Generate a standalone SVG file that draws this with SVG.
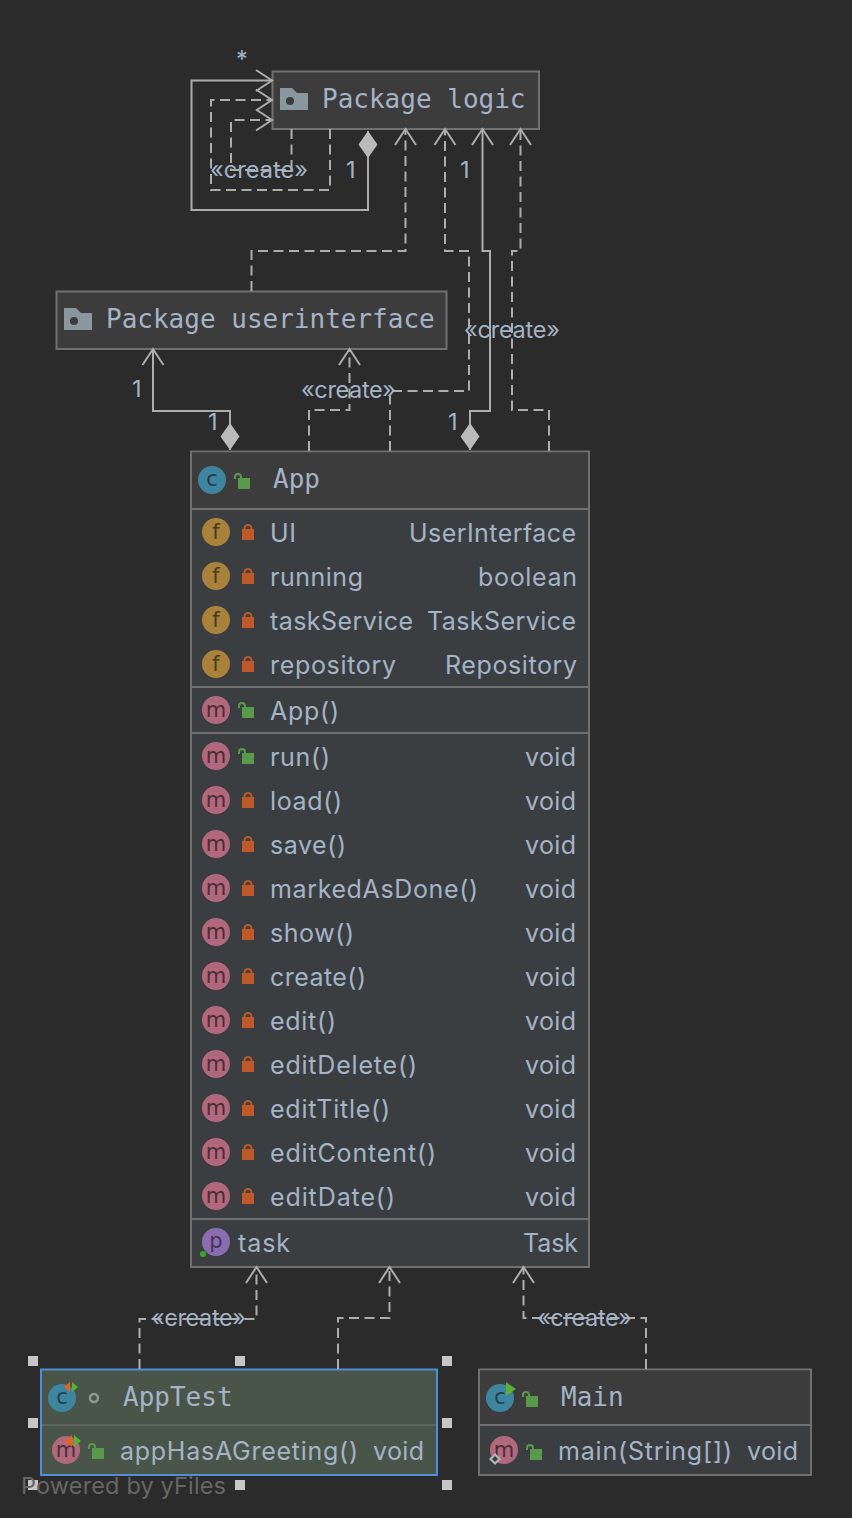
<svg xmlns="http://www.w3.org/2000/svg" xmlns:xlink="http://www.w3.org/1999/xlink" width="852" height="1518" viewBox="0 0 852 1518">
<style>
.bg{fill:#2b2b2b}
.box{stroke:#707070;stroke-width:2}
.hd{fill:#3c3c3c}
.bd{fill:#3a3e41}
.sep{stroke:#707070;stroke-width:2;fill:none}
.title{font-family:"DejaVu Sans Mono","Liberation Mono",monospace;font-size:26px;fill:#a4b4c6}
.m{font-family:Inter,"Noto Sans",sans-serif;font-size:25px;fill:#a4b4c6}
.lab{font-family:Inter,"Noto Sans",sans-serif;font-size:23.500px;fill:#a4b4c6}
.ic{font-family:"DejaVu Sans",sans-serif;font-size:21px;text-anchor:middle}
.sol,.dash{fill:none;stroke:#adadad;stroke-width:2}
.dash{stroke-dasharray:10 5.500}
.arr{fill:none;stroke:#adadad;stroke-width:2}
.dia{fill:#bababa}
.h{fill:#c6c6c6}
</style>
<defs>
<marker id="open" markerUnits="userSpaceOnUse" orient="auto" overflow="visible" markerWidth="20" markerHeight="24" refX="0" refY="0"><path class="arr" d="M-16,-10.500L0,0L-16,10.500"/></marker>
<marker id="diamond" markerUnits="userSpaceOnUse" orient="auto" overflow="visible" markerWidth="30" markerHeight="24" refX="0" refY="0"><path class="dia" d="M0,0L13.500,-9.500L27,0L13.500,9.500Z"/></marker>
<g id="lock"><rect x="-6" y="-2" width="12" height="11" fill="#c0592a"/><path d="M-3.500,-2V-2.500A3.500,3.500 0 0 1 3.500,-2.500V-2" fill="none" stroke="#c0592a" stroke-width="2"/></g>
<g id="open-lock"><rect x="-4" y="-2" width="12" height="11" fill="#59994a"/><path d="M-7,-1V-3A3,3 0 0 1 -1,-3V-2" fill="none" stroke="#59994a" stroke-width="2"/></g>
<g id="folder"><path d="M0,0H12L17,5H28V22H0Z" fill="#8a979f"/><circle cx="10" cy="13" r="4" fill="#3c3c3c"/></g>
</defs>
<rect class="bg" width="852" height="1518"/>

<g id="node-package-logic">
<rect class="box hd" x="272.500" y="71.500" width="266.500" height="57.500"/>
<use xlink:href="#folder" href="#folder" x="280" y="88"/>
<text class="title" x="322" y="108">Package logic</text>
</g>

<g id="node-package-userinterface">
<rect class="box hd" x="56.500" y="291.500" width="390" height="57.500"/>
<use xlink:href="#folder" href="#folder" x="64" y="308"/>
<text class="title" x="106" y="328">Package userinterface</text>
</g>

<g id="node-app">
<rect class="box bd" x="191" y="451.500" width="398" height="815.500"/>
<rect class="hd" x="192" y="452.500" width="396" height="56"/>
<path class="sep" d="M191,509H589M191,687H589M191,733H589M191,1219H589"/>
<circle cx="212" cy="480" r="14" fill="#3e86a0"/><text class="ic" x="212" y="486" fill="#1f3f4d">c</text>
<use xlink:href="#open-lock" href="#open-lock" x="242" y="480"/>
<text class="title" x="273" y="488">App</text>

<g><circle cx="216" cy="532" r="14" fill="#a8823b"/><text class="ic" x="216" y="539" fill="#4a3a1d">f</text><use xlink:href="#lock" href="#lock" x="248" y="531"/><text class="m" x="270" y="542" textLength="26">UI</text><text class="m" x="409" y="542" textLength="167">UserInterface</text></g>
<g><circle cx="216" cy="576" r="14" fill="#a8823b"/><text class="ic" x="216" y="583" fill="#4a3a1d">f</text><use xlink:href="#lock" href="#lock" x="248" y="575"/><text class="m" x="270" y="586" textLength="93">running</text><text class="m" x="478" y="586" textLength="99">boolean</text></g>
<g><circle cx="216" cy="620" r="14" fill="#a8823b"/><text class="ic" x="216" y="627" fill="#4a3a1d">f</text><use xlink:href="#lock" href="#lock" x="248" y="619"/><text class="m" x="270" y="630" textLength="143">taskService</text><text class="m" x="427" y="630" textLength="149">TaskService</text></g>
<g><circle cx="216" cy="664" r="14" fill="#a8823b"/><text class="ic" x="216" y="671" fill="#4a3a1d">f</text><use xlink:href="#lock" href="#lock" x="248" y="663"/><text class="m" x="270" y="674" textLength="126">repository</text><text class="m" x="445" y="674" textLength="132">Repository</text></g>

<g><circle cx="216" cy="710" r="14" fill="#b0697c"/><text class="ic" x="216" y="717" fill="#4e2c36">m</text><use xlink:href="#open-lock" href="#open-lock" x="246" y="709"/><text class="m" x="270" y="720" textLength="69">App()</text></g>
<g><circle cx="216" cy="756" r="14" fill="#b0697c"/><text class="ic" x="216" y="763" fill="#4e2c36">m</text><use xlink:href="#open-lock" href="#open-lock" x="246" y="755"/><text class="m" x="270" y="766" textLength="60">run()</text><text class="m" x="525" y="766" textLength="51">void</text></g>
<g><circle cx="216" cy="800" r="14" fill="#b0697c"/><text class="ic" x="216" y="807" fill="#4e2c36">m</text><use xlink:href="#lock" href="#lock" x="248" y="799"/><text class="m" x="270" y="810" textLength="72">load()</text><text class="m" x="525" y="810" textLength="51">void</text></g>
<g><circle cx="216" cy="844" r="14" fill="#b0697c"/><text class="ic" x="216" y="851" fill="#4e2c36">m</text><use xlink:href="#lock" href="#lock" x="248" y="843"/><text class="m" x="270" y="854" textLength="76">save()</text><text class="m" x="525" y="854" textLength="51">void</text></g>
<g><circle cx="216" cy="888" r="14" fill="#b0697c"/><text class="ic" x="216" y="895" fill="#4e2c36">m</text><use xlink:href="#lock" href="#lock" x="248" y="887"/><text class="m" x="270" y="898" textLength="208">markedAsDone()</text><text class="m" x="525" y="898" textLength="51">void</text></g>
<g><circle cx="216" cy="932" r="14" fill="#b0697c"/><text class="ic" x="216" y="939" fill="#4e2c36">m</text><use xlink:href="#lock" href="#lock" x="248" y="931"/><text class="m" x="270" y="942" textLength="84">show()</text><text class="m" x="525" y="942" textLength="51">void</text></g>
<g><circle cx="216" cy="976" r="14" fill="#b0697c"/><text class="ic" x="216" y="983" fill="#4e2c36">m</text><use xlink:href="#lock" href="#lock" x="248" y="975"/><text class="m" x="270" y="986" textLength="96">create()</text><text class="m" x="525" y="986" textLength="51">void</text></g>
<g><circle cx="216" cy="1020" r="14" fill="#b0697c"/><text class="ic" x="216" y="1027" fill="#4e2c36">m</text><use xlink:href="#lock" href="#lock" x="248" y="1019"/><text class="m" x="270" y="1030" textLength="66">edit()</text><text class="m" x="525" y="1030" textLength="51">void</text></g>
<g><circle cx="216" cy="1064" r="14" fill="#b0697c"/><text class="ic" x="216" y="1071" fill="#4e2c36">m</text><use xlink:href="#lock" href="#lock" x="248" y="1063"/><text class="m" x="270" y="1074" textLength="147">editDelete()</text><text class="m" x="525" y="1074" textLength="51">void</text></g>
<g><circle cx="216" cy="1108" r="14" fill="#b0697c"/><text class="ic" x="216" y="1115" fill="#4e2c36">m</text><use xlink:href="#lock" href="#lock" x="248" y="1107"/><text class="m" x="270" y="1118" textLength="120">editTitle()</text><text class="m" x="525" y="1118" textLength="51">void</text></g>
<g><circle cx="216" cy="1152" r="14" fill="#b0697c"/><text class="ic" x="216" y="1159" fill="#4e2c36">m</text><use xlink:href="#lock" href="#lock" x="248" y="1151"/><text class="m" x="270" y="1162" textLength="166">editContent()</text><text class="m" x="525" y="1162" textLength="51">void</text></g>
<g><circle cx="216" cy="1196" r="14" fill="#b0697c"/><text class="ic" x="216" y="1203" fill="#4e2c36">m</text><use xlink:href="#lock" href="#lock" x="248" y="1195"/><text class="m" x="270" y="1206" textLength="125">editDate()</text><text class="m" x="525" y="1206" textLength="51">void</text></g>

<g><circle cx="216" cy="1242" r="14" fill="#8a6db0"/><text class="ic" x="216" y="1248" fill="#44355a">p</text><circle cx="203" cy="1254" r="3" fill="#3fa51f"/><text class="m" x="238" y="1252" textLength="52">task</text><text class="m" x="523" y="1252" textLength="55">Task</text></g>
</g>

<g id="node-apptest">
<rect x="41" y="1369.500" width="396" height="105.500" fill="#4a554a" stroke="#4f8fd6" stroke-width="2"/>
<path d="M42,1425H436" stroke="#5c655c" stroke-width="2"/>
<circle cx="62" cy="1398" r="14" fill="#3e86a0"/><text class="ic" x="62" y="1404" fill="#1f3f4d">c</text>
<path d="M64,1387l6,-5v10z" fill="#e2641f"/><path d="M72,1382l6,5l-6,5z" fill="#5bb030"/>
<circle cx="94" cy="1398" r="4" fill="none" stroke="#8e9a8e" stroke-width="2.500"/>
<text class="title" x="123" y="1406">AppTest</text>
<circle cx="66" cy="1450" r="14" fill="#b0697c"/><text class="ic" x="66" y="1457" fill="#4e2c36">m</text>
<path d="M65,1441l7,-6v12z" fill="#e2641f"/><path d="M74,1435l7,6l-7,6z" fill="#5bb030"/>
<use xlink:href="#open-lock" href="#open-lock" x="96" y="1450"/>
<text class="m" x="120" y="1460" textLength="238">appHasAGreeting()</text><text class="m" x="373" y="1460" textLength="51">void</text>
</g>
<g id="selection-handles">
<rect class="h" x="28" y="1356" width="10" height="10"/><rect class="h" x="235" y="1356" width="10" height="10"/><rect class="h" x="442" y="1356" width="10" height="10"/>
<rect class="h" x="28" y="1418" width="10" height="10"/><rect class="h" x="442" y="1418" width="10" height="10"/>
<rect class="h" x="28" y="1480" width="10" height="10"/><rect class="h" x="235" y="1480" width="10" height="10"/><rect class="h" x="442" y="1480" width="10" height="10"/>
</g>

<g id="node-main">
<rect class="box bd" x="479" y="1369.500" width="332" height="105.500"/>
<rect class="hd" x="480" y="1370.500" width="330" height="54"/>
<path class="sep" d="M479,1425H811"/>
<circle cx="500" cy="1398" r="14" fill="#3e86a0"/><text class="ic" x="500" y="1404" fill="#1f3f4d">c</text>
<path d="M506,1382l10,7l-10,7z" fill="#5bb030"/>
<use xlink:href="#open-lock" href="#open-lock" x="530" y="1398"/>
<text class="title" x="561" y="1406">Main</text>
<circle cx="504" cy="1450" r="14" fill="#b0697c"/><text class="ic" x="504" y="1457" fill="#4e2c36">m</text>
<path d="M495,1453l6,6l-6,6l-6,-6z" fill="#b5b5b5"/><path d="M495,1456l3,3l-3,3l-3,-3z" fill="#3a3e41"/>
<use xlink:href="#open-lock" href="#open-lock" x="534" y="1451"/>
<text class="m" x="558" y="1460" textLength="174">main(String[])</text><text class="m" x="747" y="1460" textLength="51">void</text>
</g>

<g id="connectors">
<path class="sol" marker-start="url(#diamond)" marker-end="url(#open)" d="M368,131V210H191.500V80.500H272"/>
<path class="dash" marker-end="url(#open)" d="M330,129V190H211V100H272"/>
<path class="dash" marker-end="url(#open)" d="M291.500,129V170H231V120H272"/>
<path class="dash" marker-end="url(#open)" d="M251.500,291V251H405.500V129"/>
<path class="dash" marker-end="url(#open)" d="M390,451V391H469V251H445V129"/>
<path class="sol" marker-start="url(#diamond)" marker-end="url(#open)" d="M470,450V411H490V251H482.500V129"/>
<path class="dash" marker-end="url(#open)" d="M549,451V410H512V251H520.500V129"/>
<path class="sol" marker-start="url(#diamond)" marker-end="url(#open)" d="M230,450V411H153V349"/>
<path class="dash" marker-end="url(#open)" d="M309,451V410H349.500V349"/>
<path class="dash" marker-end="url(#open)" d="M139.500,1369V1319H256.500V1267"/>
<path class="dash" marker-end="url(#open)" d="M338,1369V1318H389.500V1267"/>
<path class="dash" marker-end="url(#open)" d="M646,1369V1318H523.500V1267"/>
<text class="lab" x="236" y="67">*</text>
<text class="lab" x="210" y="178" textLength="98">«create»</text>
<text class="lab" x="346" y="178">1</text>
<text class="lab" x="460" y="178">1</text>
<text class="lab" x="464" y="338" textLength="96">«create»</text>
<text class="lab" x="301" y="398" textLength="95">«create»</text>
<text class="lab" x="132" y="397">1</text>
<text class="lab" x="208" y="430">1</text>
<text class="lab" x="448" y="430">1</text>
<text class="lab" x="151" y="1326" textLength="95">«create»</text>
<text class="lab" x="537" y="1326" textLength="95">«create»</text>
</g>

<text id="watermark" x="21" y="1494" font-family="Inter,'Noto Sans',sans-serif" font-size="23.500" fill="#666666" textLength="205">Powered by yFiles</text>
</svg>
